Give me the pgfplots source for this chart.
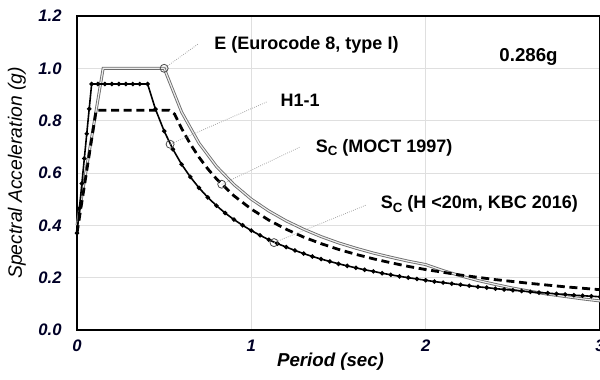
\documentclass[border=0pt]{standalone}
\usepackage{pgfplots}
\pgfplotsset{compat=1.18}
\usepackage{fontspec}
\setmainfont{Liberation Sans}
\begin{document}
\begin{tikzpicture}
\begin{axis}[
  name=ax,
  scale only axis,
  width=392.25pt, height=235.5pt,
  xmin=0, xmax=3, ymin=0, ymax=1.2,
  xtick={0,1,2,3},
  ytick={0,0.2,0.4,0.6,0.8,1.0,1.2},
  yticklabel style={/pgf/number format/fixed, /pgf/number format/fixed zerofill, /pgf/number format/precision=1, xshift=-8pt},
  xticklabel style={yshift=-4pt},
  /pgf/number format/assume math mode=true,
  ticklabel style={font=\fontsize{12.5}{14}\selectfont\bfseries\itshape, text=black!85!blue},
  major tick length=0pt,
  grid=major,
  major grid style={gray!25, line width=0.6pt},
  axis line style={black, line width=0.9pt},
  xlabel={Period (sec)},
  ylabel={Spectral Acceleration (g)},
  every axis x label/.style={at={(axis description cs:0.5,0)}, anchor=center, yshift=-24pt, xshift=-6pt, font=\fontsize{14}{16}\selectfont\bfseries\itshape},
  every axis y label/.style={at={(axis description cs:0,0.5)}, xshift=-45pt, rotate=90, anchor=center, font=\fontsize{14.5}{16}\selectfont\itshape},
  clip=false,
]
% Eurocode 8 type I (gray double line)
\addplot[draw=gray!85!black, double=white!85!gray, double distance=0.9pt, line width=0.65pt] coordinates {
(0,0.40) (0.15,1.0) (0.5,1.0) (0.6,0.833) (0.7,0.714) (0.8,0.625) (0.9,0.556) (1.0,0.5)
(1.1,0.455) (1.2,0.417) (1.3,0.385) (1.4,0.357) (1.5,0.333) (1.6,0.3125) (1.7,0.294) (1.8,0.278) (1.9,0.263) (2.0,0.25)
(2.1,0.227) (2.2,0.207) (2.3,0.189) (2.4,0.174) (2.5,0.16) (2.6,0.148) (2.7,0.137) (2.8,0.128) (2.9,0.119) (3.0,0.111)};
% MOCT 1997 (dashed)
\addplot[black, dash pattern=on 6pt off 3.5pt, line width=2.1pt] coordinates {
(0,0.37) (0.11,0.84) (0.53,0.84) (0.56,0.825) (0.6,0.77) (0.65,0.711) (0.7,0.66) (0.75,0.616) (0.8,0.5775) (0.9,0.513) (1.0,0.462)
(1.1,0.42) (1.2,0.385) (1.3,0.355) (1.4,0.33) (1.5,0.308) (1.6,0.289) (1.7,0.272) (1.8,0.257) (1.9,0.243) (2.0,0.231)
(2.2,0.21) (2.4,0.1925) (2.6,0.178) (2.8,0.165) (3.0,0.154)};
% H1-1 / KBC 2016 (solid black with dots)
\addplot[black, line width=1.2pt, mark=*, mark size=1pt] coordinates {
(0,0.37) (0.014,0.465) (0.028,0.56) (0.042,0.655) (0.056,0.75) (0.07,0.845) (0.084,0.94)
(0.12,0.94) (0.16,0.94) (0.2,0.94) (0.24,0.94) (0.28,0.94) (0.32,0.94) (0.36,0.94) (0.405,0.94)
(0.45,0.844) (0.5,0.76) (0.55,0.691) (0.6,0.633) (0.65,0.585) (0.7,0.543) (0.75,0.507) (0.8,0.475)
(0.85,0.447) (0.9,0.422) (0.95,0.4) (1.0,0.38) (1.05,0.362) (1.1,0.345) (1.15,0.33) (1.2,0.317)
(1.25,0.304) (1.3,0.292) (1.35,0.281) (1.4,0.271) (1.45,0.262) (1.5,0.253) (1.55,0.245) (1.6,0.2375)
(1.65,0.23) (1.7,0.224) (1.75,0.217) (1.8,0.211) (1.85,0.205) (1.9,0.2) (1.95,0.195) (2.0,0.19)
(2.05,0.185) (2.1,0.181) (2.15,0.177) (2.2,0.173) (2.25,0.169) (2.3,0.165) (2.35,0.162) (2.4,0.158)
(2.45,0.155) (2.5,0.152) (2.55,0.149) (2.6,0.146) (2.65,0.143) (2.7,0.141) (2.75,0.138) (2.8,0.136)
(2.85,0.133) (2.9,0.131) (2.95,0.129) (3.0,0.127)};
% leader lines
\addplot[gray!70, densely dotted, line width=0.6pt] coordinates {(0.5,1.0) (0.693,1.092)};
\addplot[gray!70, densely dotted, line width=0.6pt] coordinates {(0.534,0.71) (1.09,0.872)};
\addplot[gray!70, densely dotted, line width=0.6pt] coordinates {(0.83,0.557) (1.282,0.70)};
\addplot[gray!70, densely dotted, line width=0.6pt] coordinates {(1.13,0.334) (1.661,0.478)};
% circles
\addplot[only marks, mark=o, mark size=3pt, gray!60!black, line width=0.6pt] coordinates {(0.5,1.0) (0.534,0.71) (0.83,0.557) (1.13,0.334)};
% labels
\node[anchor=west, inner sep=0pt, font=\fontsize{13.5}{15}\selectfont\bfseries] at (axis cs:0.787,1.089) {E (Eurocode 8, type I)};
\node[anchor=west, inner sep=0pt, font=\fontsize{13.5}{15}\selectfont\bfseries] at (axis cs:1.167,0.879) {H1-1};
\node[anchor=west, inner sep=0pt, font=\fontsize{13.5}{15}\selectfont\bfseries] at (axis cs:1.368,0.697) {S\raisebox{-0.35ex}{\fontsize{10}{10}\selectfont C} (MOCT 1997)};
\node[anchor=west, inner sep=0pt, font=\fontsize{13.5}{15}\selectfont\bfseries] at (axis cs:1.741,0.481) {S\raisebox{-0.35ex}{\fontsize{10}{10}\selectfont C} (H <20m, KBC 2016)};
\node[anchor=center, inner sep=0pt, font=\fontsize{14}{15}\selectfont\bfseries] at (axis cs:2.59,1.044) {0.286g};
\end{axis}
\pgfresetboundingbox
\useasboundingbox ([xshift=-57.75pt, yshift=-37.5pt]ax.south west) rectangle ([yshift=12pt]ax.north east);
\end{tikzpicture}
\end{document}
